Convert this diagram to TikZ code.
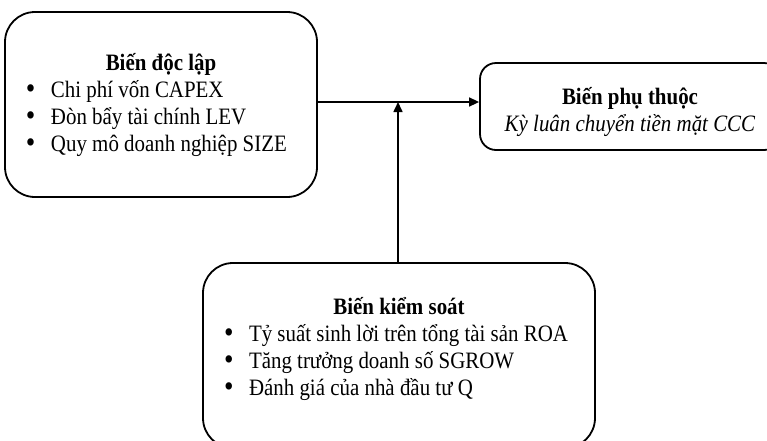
\documentclass[tikz,border=0pt]{standalone}
\usepackage{graphicx}
\usepackage{fontspec}
\setmainfont{Liberation Serif}[FakeStretch=0.89]
\usetikzlibrary{arrows.meta}

\newcommand{\bul}{\hspace*{21pt}\makebox[25pt][l]{\raisebox{-1.5pt}{\scalebox{1.3}{\textbullet}}}}

\tikzset{
  varbox/.style = {draw, line width = 1.8pt, rounded corners = 30pt, inner sep = 0pt,
                   font = \fontsize{23.5pt}{27pt}\selectfont},
  flow/.style   = {line width = 1.6pt, -{Triangle[length = 10pt, width = 9pt]}}
}

\begin{document}
\begin{tikzpicture}[x = 1pt, y = -1pt]
  \useasboundingbox (0, 0) rectangle (767, 440);

  % independent variables
  \node[varbox] (indep) at (161, 104.5) {%
    \begin{minipage}[c][185pt][t]{312pt}
      \centering\rule{0pt}{58pt}\textbf{Biến độc lập}\par
      \raggedright
      \bul Chi phí vốn CAPEX\par
      \bul Đòn bẩy tài chính LEV\par
      \bul Quy mô doanh nghiệp SIZE
    \end{minipage}};

  % dependent variable
  \node[varbox, rounded corners = 16pt] (dep) at (630, 106.5) {%
    \begin{minipage}[c][87pt][t]{300pt}
      \centering\rule{0pt}{41pt}\textbf{Biến phụ thuộc}\par
      \textit{Kỳ luân chuyển tiền mặt CCC}
    \end{minipage}};

  % control variables
  \node[varbox] (ctrl) at (399, 355.5) {%
    \begin{minipage}[c][185pt][t]{392pt}
      \centering\rule{0pt}{51pt}\textbf{Biến kiểm soát}\par
      \raggedright
      \bul Tỷ suất sinh lời trên tổng tài sản ROA\par
      \bul Tăng trưởng doanh số SGROW\par
      \bul Đánh giá của nhà đầu tư Q
    \end{minipage}};

  \coordinate (join) at (398, 102);

  \draw[flow] (indep.east |- join) -- (dep.west |- join);
  \draw[flow] (ctrl.north -| join) -- (join);
\end{tikzpicture}
\end{document}
